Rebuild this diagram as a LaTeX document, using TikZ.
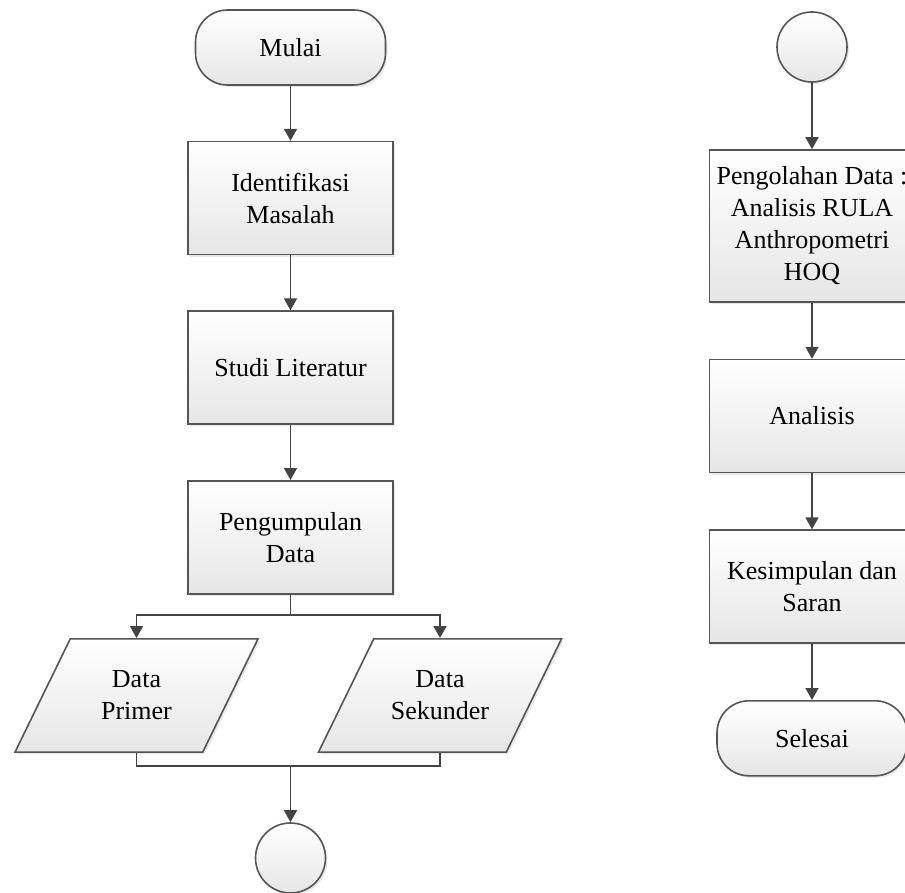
\documentclass[tikz,border=0pt]{standalone}
\usepackage{fontspec}
\setmainfont{Liberation Serif}
\usepackage{tikz}
\usetikzlibrary{arrows.meta, positioning, shapes.geometric, shadows}
\usepackage{xcolor}
\definecolor{linegray}{HTML}{555555}
\definecolor{arrowgray}{HTML}{444444}
\definecolor{boxgray}{HTML}{E6E6E6}

\begin{document}
\begin{tikzpicture}[
    x=0.5pt, y=-0.5pt,
    node distance=27.5pt,
    font=\fontsize{13}{16}\selectfont,
    shade/.style={top color=white, bottom color=boxgray, draw=linegray, thick,
        drop shadow={opacity=0.18, shadow xshift=1pt, shadow yshift=-1pt}},
    box/.style={shade, rectangle, minimum width=102.5pt, minimum height=56.5pt, align=center, inner sep=2pt},
    terminal/.style={shade, rectangle, rounded corners=16pt, minimum width=95pt, minimum height=37.5pt},
    connector/.style={shade, circle, minimum size=35pt, inner sep=0pt},
    datain/.style={shade, trapezium, trapezium left angle=64, trapezium right angle=116,
        trapezium stretches body, minimum width=121.5pt, align=center,
        inner xsep=1pt, inner ysep=16pt},
    arrow/.style={-{Triangle[length=6pt, width=6.5pt]}, draw=arrowgray, thick}
]
\useasboundingbox (0,0) rectangle (905,893);

% Kolom kiri
\node[terminal] (mulai) at (290.5,47.5) {Mulai};
\node[box, below=of mulai] (identifikasi) {Identifikasi\\Masalah};
\node[box, below=of identifikasi] (studi) {Studi Literatur};
\node[box, below=of studi] (pengumpulan) {Pengumpulan\\Data};
\node[datain] (primer) at (136.5,695.5) {Data\\Primer};
\node[datain] (sekunder) at (440,695.5) {Data\\Sekunder};
\node[connector] (hubung1) at (290.5,858) {};
\coordinate (cabang) at (290.5,615);
\coordinate (gabung) at (290.5,766);

% Kolom kanan
\node[connector] (hubung2) at (812,47) {};
\node[box, minimum height=76pt] (olah) at (812,226) {Pengolahan Data :\\Analisis RULA\\Anthropometri\\HOQ};
\node[box, below=28pt of olah] (analisis) {Analisis};
\node[box, below=28pt of analisis] (kesimpulan) {Kesimpulan dan\\Saran};
\node[terminal, below=28pt of kesimpulan] (selesai) {Selesai};

% Panah
\draw[arrow] (mulai) -- (identifikasi);
\draw[arrow] (identifikasi) -- (studi);
\draw[arrow] (studi) -- (pengumpulan);
\draw[draw=arrowgray, thick] (pengumpulan) -- (cabang);
\draw[arrow] (cabang) -| (primer.center |- primer.north);
\draw[arrow] (cabang) -| (sekunder.center |- sekunder.north);
\draw[draw=arrowgray, thick] (primer.center |- primer.south) |- (gabung) -| (sekunder.center |- sekunder.south);
\draw[arrow] (gabung) -- (hubung1);

\draw[arrow] (hubung2) -- (olah);
\draw[arrow] (olah) -- (analisis);
\draw[arrow] (analisis) -- (kesimpulan);
\draw[arrow] (kesimpulan) -- (selesai);

\end{tikzpicture}
\end{document}
